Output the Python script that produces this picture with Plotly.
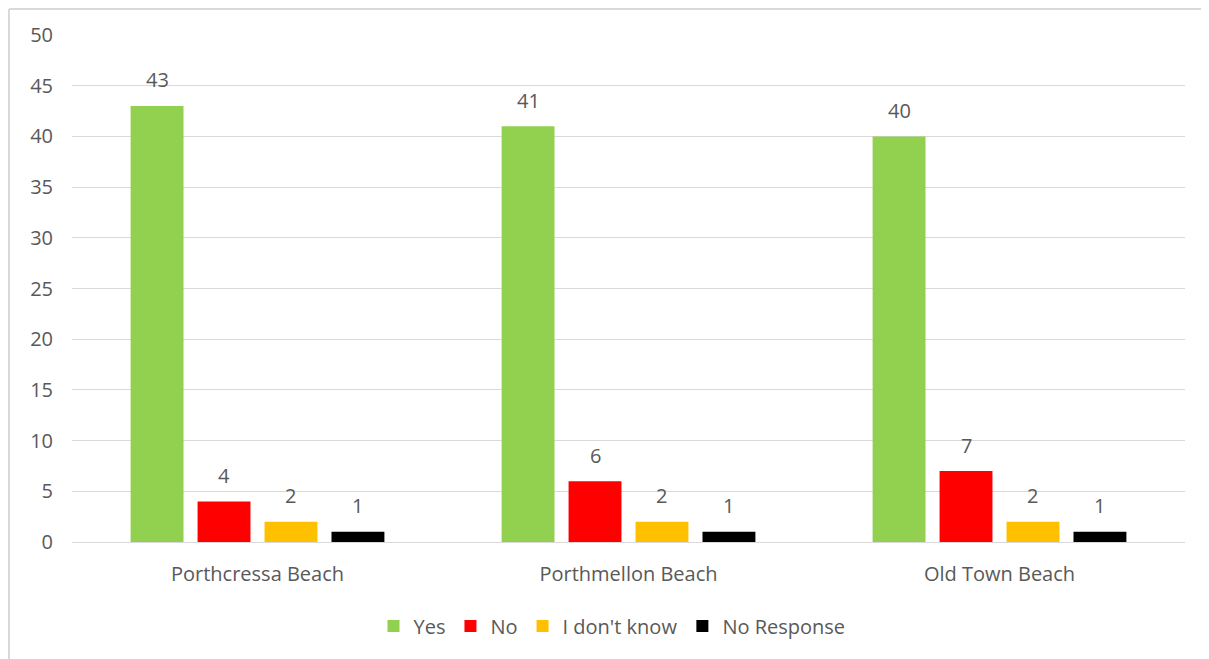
import plotly.graph_objects as go

categories = ["Porthcressa Beach", "Porthmellon Beach", "Old Town Beach"]
series_names = ["Yes", "No", "I don't know", "No Response"]
yes_vals = [43, 41, 40]
no_vals = [4, 6, 7]
dont_know_vals = [2, 2, 2]
no_response_vals = [1, 1, 1]
colors = ["#92D050", "#FF0000", "#FFC000", "#000000"]
y_ticks = [0, 5, 10, 15, 20, 25, 30, 35, 40, 45, 50]

# page is offset by 8px body margin
OFF = 8
W, H = 1209 - OFF, 659 - OFF
L, R, T, B = 72 - OFF, 24, 35 - OFF, 117
pw, ph = W - L - R, H - T - B

font_family = "Open Sans, Noto Sans, Liberation Sans, sans-serif"
text_color = "#595959"
FS = 20
BARGAP, GROUPGAP = 0.278, 0.21

all_series = [yes_vals, no_vals, dont_know_vals, no_response_vals]
fig = go.Figure()
for name, vals, col in zip(series_names, all_series, colors):
    fig.add_trace(go.Bar(
        x=categories, y=vals, name=name,
        marker=dict(color=col, line=dict(width=0)),
    ))

# value labels above bars
slot_px = pw / len(categories) * (1 - BARGAP) / len(series_names)
annotations = []
for i, vals in enumerate(all_series):
    shift = (i - (len(series_names) - 1) / 2) * slot_px
    for cat, v in zip(categories, vals):
        annotations.append(dict(
            x=cat, y=v, xref="x", yref="y", text=str(v), showarrow=False,
            xshift=shift, yshift=26, yanchor="middle",
            font=dict(size=FS, color=text_color, family=font_family),
        ))

def px_x(p):
    return (p - OFF - L) / pw

def px_y(p):
    return (H - B - (p - OFF)) / ph

border = dict(color="#d9d9d9", width=2)
fig.update_layout(
    width=W, height=H,
    margin=dict(l=L, r=R, t=T, b=B),
    barmode="group", bargap=BARGAP, bargroupgap=GROUPGAP,
    plot_bgcolor="white", paper_bgcolor="white",
    font=dict(family=font_family, color=text_color, size=FS),
    showlegend=True,
    legend=dict(orientation="h", x=px_x(612), xanchor="center", y=px_y(626), yanchor="middle",
                font=dict(size=FS, color=text_color), traceorder="normal",
                itemwidth=30, bgcolor="rgba(0,0,0,0)"),
    xaxis=dict(showgrid=False, showline=False, ticks="", tickfont=dict(size=FS, color=text_color),
               ticklabelstandoff=18),
    yaxis=dict(range=[0, 50], tickvals=y_ticks, showgrid=True, gridcolor="#d9d9d9", gridwidth=1,
               zeroline=True, zerolinecolor="#d9d9d9", zerolinewidth=1, showline=False,
               ticks="", tickfont=dict(size=FS, color=text_color), ticklabelstandoff=18),
    annotations=annotations,
    shapes=[
        dict(type="line", xref="paper", yref="paper", x0=px_x(9), x1=px_x(9),
             y0=px_y(700), y1=px_y(9), line=border, layer="below"),
        dict(type="line", xref="paper", yref="paper", x0=px_x(9), x1=px_x(1260),
             y0=px_y(9), y1=px_y(9), line=border, layer="below"),
    ],
)

fig.write_html("out.html")
